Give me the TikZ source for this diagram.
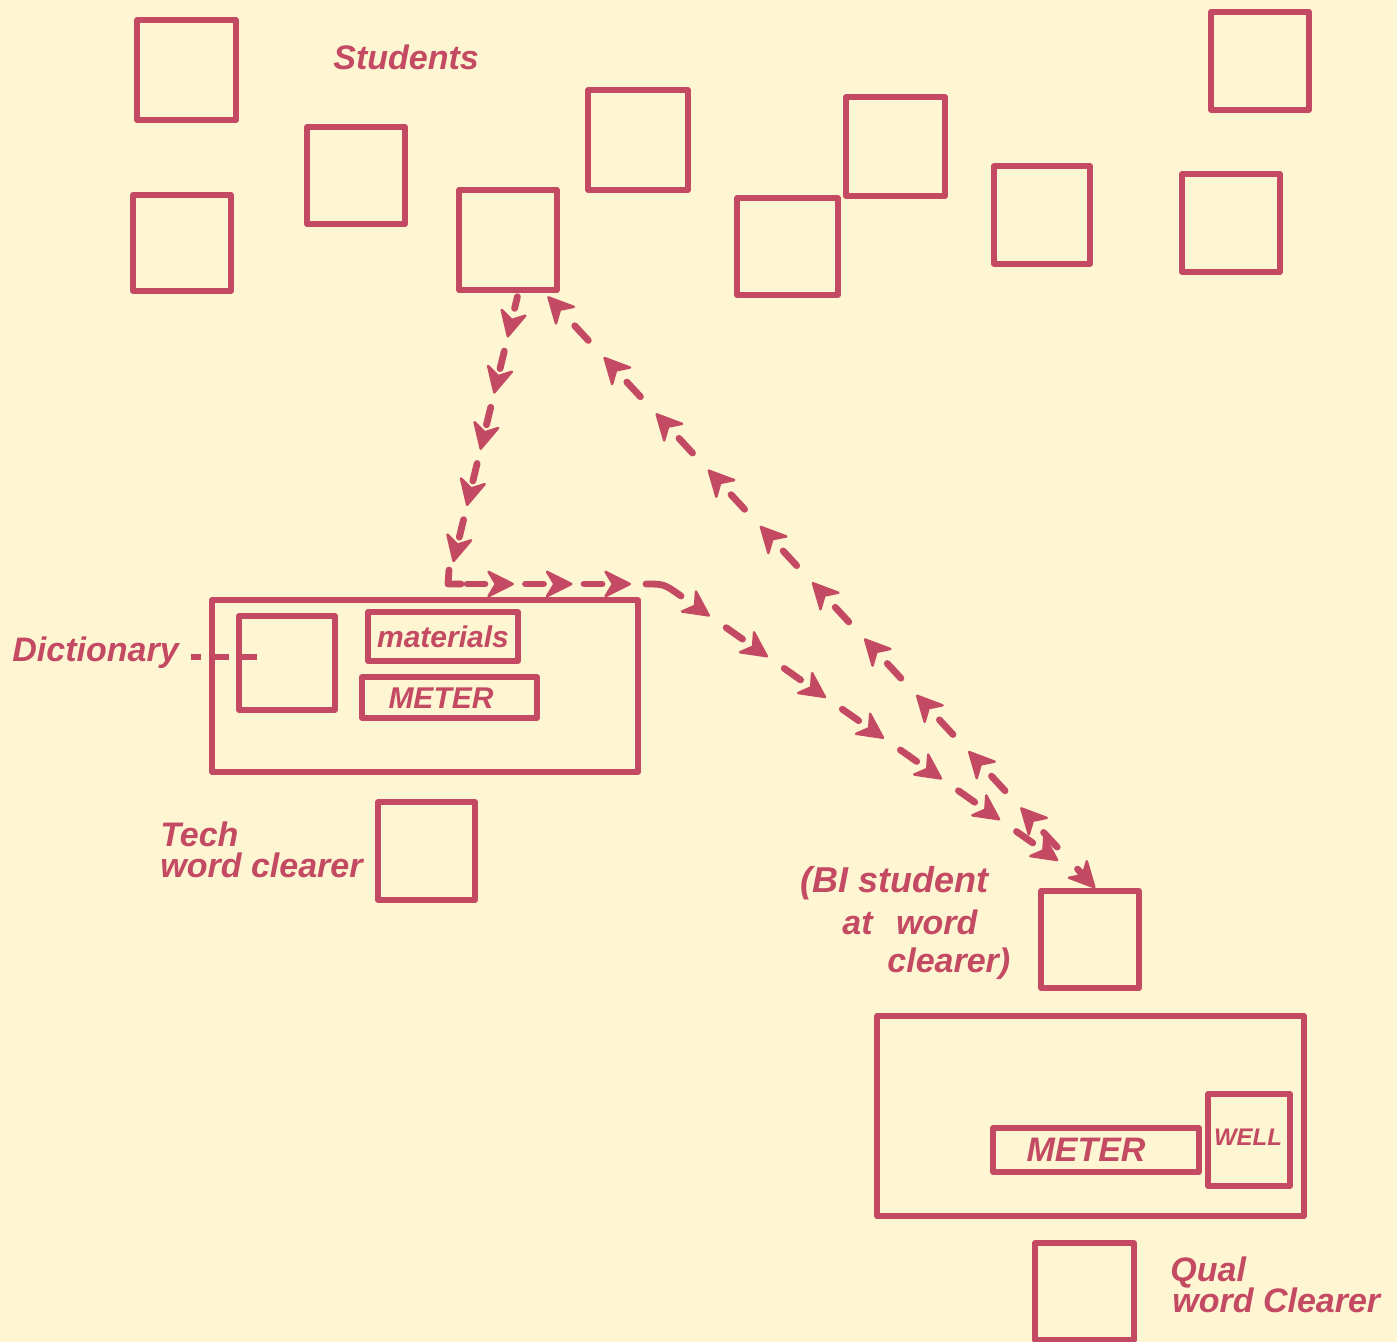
\documentclass[tikz,border=0pt]{standalone}
\usepackage{fontspec}
\setmainfont{Liberation Sans}
\usetikzlibrary{arrows.meta,decorations.markings,fit,calc}
\definecolor{inkc}{HTML}{C34A62}
\definecolor{paper}{HTML}{FEF5D2}
\newcommand\mydash[1]{\draw[inkc,line width=3.4pt,line cap=round] (-#1,0pt) -- (#1,0pt);}
\tikzset{
  box/.style={draw=inkc, line width=2.8pt, rectangle, inner sep=0pt, line join=round},
  hand/.style={text=inkc, font=\bfseries\itshape\fontsize{17}{20}\selectfont, inner sep=0pt},
  route/.style={color=inkc, line width=3.4pt, decorate},
  hd/.tip={Stealth[length=15pt,width=15pt,inset=4.5pt,round,line width=1.2pt,color=inkc]},
  stroke/.style={draw=inkc, line width=3.4pt, line cap=round, line join=round},
}
\begin{document}
\begin{tikzpicture}[x=0.5pt,y=-0.5pt]
\useasboundingbox (0,0) rectangle (1397,1342);
\fill[paper] (0,0) rectangle (1397,1342);

% student desks
\node[box, fit={(137,20) (236,120)}] (s1) {};
\node[box, fit={(307,127) (405,224)}] (s2) {};
\node[box, fit={(588,90) (688,190)}] (s3) {};
\node[box, fit={(846,97) (945,196)}] (s4) {};
\node[box, fit={(1211,12) (1309,110)}] (s5) {};
\node[box, fit={(133,195) (231,291)}] (s6) {};
\node[box, fit={(459,190) (557,290)}] (s7) {};
\node[box, fit={(737,198) (838,295)}] (s8) {};
\node[box, fit={(994,166) (1090,264)}] (s9) {};
\node[box, fit={(1182,174) (1280,272)}] (s10) {};
\node[hand, anchor=base west] (studlbl) at (333,70) {Students};

% left table
\node[box, fit={(212,600) (638,772)}] (ltable) {};
\node[box, fit={(239,616) (335,710)}] (dict) {};
\node[box, fit={(368,612) (518,661)}] (mat) {};
\node[box, fit={(362,677) (537,718)}] (meter1) {};
\node[hand, font=\bfseries\itshape\fontsize{15}{18}\selectfont] (matlbl) at (443,637) {materials};
\node[hand, font=\bfseries\itshape\fontsize{15}{18}\selectfont] (m1lbl) at (441,698) {METER};
\node[hand, anchor=base west] (dictlbl) at (12,661) {Dictionary};
\coordinate (dictend) at ($(dict.west)+(21,-6)$);
\draw[stroke, line cap=butt, dash pattern=on 5pt off 7pt on 7pt off 6pt on 10pt] (dictlbl.east |- dictend) ++(12,0) -- (dictend);

% tech word clearer
\node[box, fit={(378,802) (475,900)}] (tech) {};
\node[hand, anchor=base west] (tech1) at (160,846) {Tech};
\node[hand, anchor=base west] (tech2) at (160,877) {word clearer};

% BI student at word clearer
\node[box, fit={(1041,891) (1139,988)}] (bi) {};
\node[hand, anchor=base west, font=\bfseries\itshape\fontsize{18}{20}\selectfont] (bi1) at (800,892) {(BI student};
\node[hand, anchor=base west] (bi2) at (842,934) {at\hspace{7pt} word};
\node[hand, anchor=base west] (bi3) at (887,972) {clearer)};

% right table
\node[box, fit={(877,1016) (1304,1216)}] (rtable) {};
\node[box, fit={(993,1128) (1199,1172)}] (meter2) {};
\node[box, fit={(1208,1094) (1290,1186)}] (well) {};
\node[hand] (m2lbl) at (1086,1150) {METER};
\node[hand, font=\bfseries\itshape\fontsize{12}{14}\selectfont] (welllbl) at (1248,1137) {WELL};

% qual word clearer
\node[box, fit={(1035,1243) (1134,1340)}] (qual) {};
\node[hand, anchor=base west] (q1) at (1170,1281) {Qual};
\node[hand, anchor=base west] (q2) at (1172,1312) {word Clearer};

% route coordinates
\coordinate (s7a) at ($(s7.south west)!0.6!(s7.south east)$);
\coordinate (cA) at (448,584);
\coordinate (cB) at (664,584);
\coordinate (endA) at ($(bi.north west)+(22,-26)$);
\coordinate (biN) at ($(bi.north west)!0.55!(bi.north east)$);
\coordinate (s7b) at ($(s7.south west)!0.85!(s7.south east)$);

% route A: student desk -> table -> BI student
\path[route, decoration={markings,
   mark=at position 5pt with {\mydash{3pt}},
   mark=between positions 23pt and 142pt step 28.9pt with {\arrow{hd}},
   mark=between positions 34.5pt and 125pt step 28.9pt with {\mydash{4.5pt}}}]
   (s7a) -- (cA);
\draw[stroke] ($(cA)+(1,-14)$) -- (cA) -- ($(cA)+(13,0)$);
\path[route, decoration={markings,
   mark=between positions 33pt and 97pt step 29.25pt with {\arrow{hd}},
   mark=between positions 14pt and 80pt step 29.25pt with {\mydash{4.5pt}}}]
   (cA) -- (cB);
\draw[stroke] ($(cB)+(-18,0)$) .. controls (cB) .. ($(cB)+(17,12)$);
\path[route, decoration={markings,
   mark=between positions 28pt and 243pt step 35.47pt with {\arrow{hd}},
   mark=between positions 43pt and 222pt step 35.47pt with {\mydash{5pt}}}]
   (cB) -- (endA);

% route B: BI student <-> student desk
\path[route, decoration={markings,
   mark=at position 0pt with {\arrowreversed{hd}},
   mark=at position 8pt with {\mydash{5pt}},
   mark=between positions 33pt and 382pt step 38.35pt with {\mydash{5pt}},
   mark=between positions 55pt and 364pt step 38.35pt with {\arrow{hd}},
   mark=at position 0.994 with {\arrow{hd}}}]
   (biN) -- (s7b);
\end{tikzpicture}
\end{document}
